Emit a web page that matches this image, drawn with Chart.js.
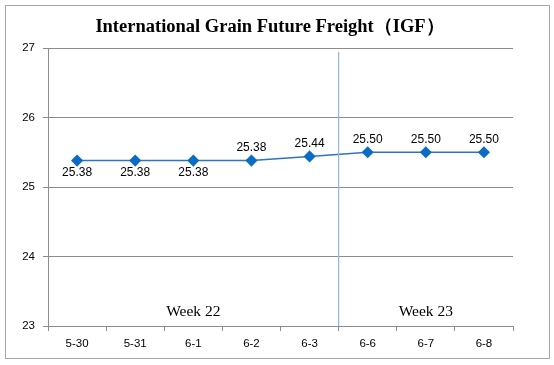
<!DOCTYPE html>
<html>
<head>
<meta charset="utf-8">
<script src="https://cdn.jsdelivr.net/npm/chart.js@4/dist/chart.umd.min.js"></script>
<style>
  html, body { margin: 0; padding: 0; background: #fff; }
  #wrap { width: 554px; height: 365px; position: relative; }
</style>
</head>
<body>
<div id="wrap"><canvas id="igfChart"></canvas></div>
<script>
var days = ["5-30", "5-31", "6-1", "6-2", "6-3", "6-6", "6-7", "6-8"];
var freight = [25.38, 25.38, 25.38, 25.38, 25.44, 25.50, 25.50, 25.50];
var labelBelow = [true, true, true, false, false, false, false, false];
var weeks = ["Week 22", "Week 23"];
var weekStart = [0, 5]; // first day index of each week

// frame, title, week divider and week names
var decor = {
    id: 'decor',
    beforeDraw: function (chart) {
        var c = chart.ctx;
        c.save();
        c.fillStyle = '#fff';
        c.fillRect(0, 0, chart.width, chart.height);
        c.strokeStyle = '#a6a6a6';
        c.lineWidth = 1;
        c.strokeRect(5.5, 5.5, 544, 353);
        c.restore();
    },
    afterDatasetsDraw: function (chart) {
        var c = chart.ctx, x = chart.scales.x, a = chart.chartArea;
        c.save();
        c.font = 'bold 18.5px "Liberation Serif"';
        c.fillStyle = '#000';
        c.textAlign = 'center';
        c.textBaseline = 'middle';
        c.fillText('International Grain Future Freight（IGF）', 270, 27);

        var divX = (x.getPixelForValue(weekStart[1] - 1) + x.getPixelForValue(weekStart[1])) / 2;
        c.strokeStyle = '#8fb8e0';
        c.lineWidth = 1.2;
        c.beginPath();
        c.moveTo(divX, 52);
        c.lineTo(divX, a.bottom);
        c.stroke();

        c.font = '15.5px "Liberation Serif"';
        c.fillStyle = '#000';
        c.fillText(weeks[0], (a.left + divX) / 2, 312);
        c.fillText(weeks[1], (divX + a.right) / 2, 312);

        // value labels
        var meta = chart.getDatasetMeta(0);
        c.font = '12px "Liberation Sans"';
        meta.data.forEach(function (pt, i) {
            var dy = labelBelow[i] ? 12 : -13;
            c.fillText(freight[i].toFixed(2), pt.x, pt.y + dy);
        });
        c.restore();
    }
};

new Chart(document.getElementById('igfChart'), {
    type: 'line',
    data: {
        labels: days,
        datasets: [{
            data: freight,
            borderColor: '#2e75c0',
            borderWidth: 1.5,
            backgroundColor: '#0a6cc4',
            pointBackgroundColor: '#0a6cc4',
            pointBorderColor: '#0a6cc4',
            pointStyle: 'rectRot',
            pointRadius: 5,
            tension: 0
        }]
    },
    options: {
        responsive: true,
        maintainAspectRatio: false,
        animation: false,
        layout: { padding: { top: 48, left: 0, right: 41, bottom: 0 } },
        plugins: {
            legend: { display: false },
            tooltip: { enabled: false },
            title: { display: false }
        },
        scales: {
            x: {
                offset: true,
                grid: { offset: true, drawOnChartArea: false, drawTicks: true, tickLength: 5, color: '#8c8c8c' },
                border: { color: '#8c8c8c' },
                ticks: { color: '#000', font: { family: 'Liberation Sans', size: 11.5 }, padding: 6, maxRotation: 0 },
                afterFit: function (s) { s.height = 39; }
            },
            y: {
                min: 23,
                max: 27,
                ticks: { stepSize: 1, color: '#000', font: { family: 'Liberation Sans', size: 11.5 }, padding: 8 },
                grid: { color: '#8c8c8c', tickLength: 5 },
                border: { color: '#8c8c8c' },
                afterFit: function (s) { s.width = 48; }
            }
        }
    },
    plugins: [decor]
});
</script>
</body>
</html>
